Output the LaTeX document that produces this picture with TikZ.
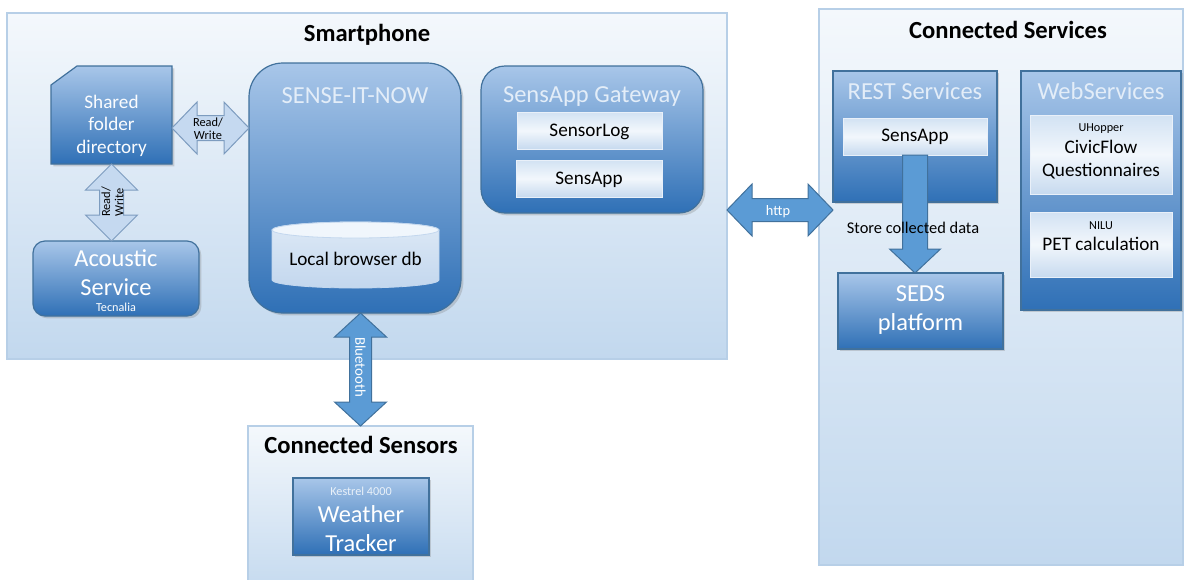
\documentclass[tikz,border=0pt]{standalone}
\usepackage{fontspec}
\setmainfont{Carlito}
\usetikzlibrary{shadows,calc}

\definecolor{contTop}{HTML}{F4F8FC}
\definecolor{contBot}{HTML}{C2D8EE}
\definecolor{contLine}{HTML}{B7CFE7}
\definecolor{darkTop}{HTML}{A8C6E9}
\definecolor{darkBot}{HTML}{2F70B6}
\definecolor{darkLine}{HTML}{41719C}
\definecolor{lightTop}{HTML}{D2E2F3}
\definecolor{lightMid}{HTML}{F2F7FC}
\definecolor{lightBot}{HTML}{C7DAEF}
\definecolor{arrowBlue}{HTML}{5B9BD5}
\definecolor{arrowPale}{HTML}{C5D9F0}
\definecolor{paleLine}{HTML}{7D9CBF}
\definecolor{titleWhite}{HTML}{E3EDF8}
\definecolor{dbTop}{HTML}{F0F6FC}
\definecolor{dbBodyTop}{HTML}{DDE9F6}
\definecolor{dbBodyBot}{HTML}{C3D7EE}

% local point: #1 along the arrow, #2 across it
\newcommand\LP[2]{({\x1+(#1)*\n3-(#2)*\n4},{\y1+(#1)*\n4+(#2)*\n3})}
% double block arrow: [style] start, end, shaft half, head half, head length (pt numbers)
\newcommand\dblarrow[6][]{%
  \path[#1] let \p1=#2, \p2=#3, \n1={atan2(\y2-\y1,\x2-\x1)},
    \n2={veclen(\x2-\x1,\y2-\y1)}, \n3={cos(\n1)}, \n4={sin(\n1)} in
    \LP{0}{0} -- \LP{#6}{#5} -- \LP{#6}{#4} -- \LP{\n2-#6}{#4} -- \LP{\n2-#6}{#5}
    -- \LP{\n2}{0} -- \LP{\n2-#6}{-#5} -- \LP{\n2-#6}{-#4} -- \LP{#6}{-#4}
    -- \LP{#6}{-#5} -- cycle;}
% single block arrow
\newcommand\sglarrow[6][]{%
  \path[#1] let \p1=#2, \p2=#3, \n1={atan2(\y2-\y1,\x2-\x1)},
    \n2={veclen(\x2-\x1,\y2-\y1)}, \n3={cos(\n1)}, \n4={sin(\n1)} in
    \LP{0}{#4} -- \LP{\n2-#6}{#4} -- \LP{\n2-#6}{#5} -- \LP{\n2}{0}
    -- \LP{\n2-#6}{-#5} -- \LP{\n2-#6}{-#4} -- \LP{0}{-#4} -- cycle;}

\begin{document}
\begin{tikzpicture}[x=0.5pt,y=-0.5pt,
  every node/.style={inner sep=0pt, outer sep=0pt},
  container/.style={draw=contLine, line width=0.8pt, top color=contTop, bottom color=contBot},
  darkbox/.style={draw=darkLine, line width=0.6pt, top color=darkTop, bottom color=darkBot,
    drop shadow={opacity=0.3, shadow xshift=1.2pt, shadow yshift=-1.2pt}},
  lightbox/.style={top color=lightTop, bottom color=lightBot, middle color=lightMid,
    draw=white!60!lightBot, line width=0.4pt},
  paleArrow/.style={fill=arrowPale, draw=paleLine, line width=0.5pt},
  blueArrow/.style={fill=arrowBlue, draw=darkLine, line width=0.5pt},
  txt/.style={anchor=base},
  bigtitle/.style={txt, font=\fontsize{12.3}{14}\selectfont\bfseries, text=black},
  lighttitle/.style={txt, font=\fontsize{12.25}{14}\selectfont, text=titleWhite},
  bigwhite/.style={txt, font=\fontsize{12.2}{14}\selectfont, text=white},
  midblack/.style={txt, font=\fontsize{9.6}{11}\selectfont, text=black},
  midwhite/.style={txt, font=\fontsize{9.6}{11}\selectfont, text=white!95!darkTop},
  tinyblack/.style={txt, font=\fontsize{6.1}{7}\selectfont, text=black},
  tinywhite/.style={txt, font=\fontsize{6.1}{7}\selectfont, text=white},
]
\useasboundingbox (0,0) rectangle (1192,579);
\clip (0,0) rectangle (1192,579);

% containers
\node[container, minimum width=360pt, minimum height=173pt] (smart) at (367,186) {};
\node[container, minimum width=182pt, minimum height=278pt] (services) at (1001,287) {};
\node[container, minimum width=112.5pt, minimum height=87pt] (sensors) at (360.5,513) {};

% smartphone content
\node[minimum width=60.5pt, minimum height=49pt] (shared) at (111.5,115) {};
\path[darkbox] (shared.south west) -- ([yshift=-9.5pt]shared.north west)
  -- ([xshift=13pt]shared.north west) -- (shared.north east) -- (shared.south east) -- cycle;
\node[darkbox, rounded corners=6pt, minimum width=83pt, minimum height=37.5pt] (acoustic) at (116,278.5) {};
\node[darkbox, rounded corners=17pt, minimum width=106pt, minimum height=125pt] (sense) at (355,188) {};
\node[minimum width=83.5pt, minimum height=33pt] (db) at (355.5,255) {};
\path[top color=dbBodyTop, bottom color=dbBodyBot, draw=dbBodyBot, line width=0.4pt]
  ([yshift=-4pt]db.north west) -- ([yshift=4pt]db.south west)
  arc[start angle=180, end angle=360, x radius=41.75pt, y radius=4pt]
  -- ([yshift=-4pt]db.north east)
  arc[start angle=0, end angle=180, x radius=41.75pt, y radius=4pt] -- cycle;
\path[fill=dbTop, draw=dbBodyBot, line width=0.4pt] ([yshift=-4pt]db.north) ellipse [x radius=41.75pt, y radius=4pt];
\node[darkbox, rounded corners=12pt, minimum width=111pt, minimum height=73.5pt] (gateway) at (592,139.5) {};
\node[lightbox, minimum width=72.5pt, minimum height=18.5pt] (sensorlog) at (589.5,130.5) {};
\node[lightbox, minimum width=73pt, minimum height=18.5pt] (gwsensapp) at (589,178.5) {};

% connected services content
\node[darkbox, minimum width=82pt, minimum height=65.5pt] (rest) at (915,136.5) {};
\node[lightbox, minimum width=72pt, minimum height=18.5pt] (restsensapp) at (915,136.5) {};
\node[darkbox, minimum width=82.5pt, minimum height=38pt] (seds) at (920.5,311) {};
\node[darkbox, minimum width=80pt, minimum height=119.5pt] (web) at (1101,190.5) {};
\node[lightbox, minimum width=71pt, minimum height=39.5pt] (uhopper) at (1101,154.5) {};
\node[lightbox, minimum width=71pt, minimum height=32.5pt] (nilu) at (1101,244.5) {};

% connected sensors content
\node[darkbox, minimum width=68pt, minimum height=38.5pt] (weather) at (361,516.5) {};

% connectors
\coordinate (rwstart) at ([yshift=-6.5pt]shared.east);
\dblarrow[paleArrow]{(rwstart)}{(sense.west |- rwstart)}{6.25}{13}{12.5}
\dblarrow[paleArrow]{(shared.south |- acoustic.north)}{(shared.south)}{6}{13}{13}
\dblarrow[blueArrow]{(sensors.north |- sense.south)}{(sensors.north)}{5.5}{13}{12}
\coordinate (httpstart) at ([yshift=-12pt]smart.east);
\dblarrow[blueArrow]{(httpstart)}{(rest.west |- httpstart)}{5.75}{13}{12.5}
\sglarrow[blueArrow]{(restsensapp.south)}{(restsensapp.south |- seds.north)}{6.25}{12.75}{12}

% texts
\node[bigtitle] (smarttitle) at (367,41.5) {Smartphone};
\node[bigtitle] (servtitle) at (1008,38) {Connected Services};
\node[bigtitle] (senstitle) at (361,453) {Connected Sensors};

\node[midwhite] (sh1) at (111.5,108) {Shared};
\node[midwhite] (sh2) at (111.5,130.5) {folder};
\node[midwhite] (sh3) at (111.5,153) {directory};

\node[align=center, font=\fontsize{6.2}{6.6}\selectfont] (rw1txt) at (208,129) {Read/\\Write};
\node[align=center, font=\fontsize{6.2}{6.6}\selectfont, rotate=90] (rw2txt) at (112.5,202) {Read/\\Write};

\node[bigwhite] (ac1) at (116,266.5) {Acoustic};
\node[bigwhite] (ac2) at (116,295) {Service};
\node[tinywhite] (ac3) at (116,311.5) {Tecnalia};

\node[lighttitle] (sensetitle) at (355,103) {SENSE-IT-NOW};
\node[midblack] (dbtxt) at (355.5,265) {Local browser db};

\node[lighttitle] (gwtitle) at (592,102) {SensApp Gateway};
\node[midblack] (sltxt) at (589.5,136.7) {SensorLog};
\node[midblack] (gstxt) at (589,184) {SensApp};

\node[font=\fontsize{7.2}{8}\selectfont, text=white, anchor=base] (httptxt) at (778,215) {http};
\node[font=\fontsize{7.4}{8}\selectfont, text=white, rotate=-90] (bttxt) at (360.5,367) {Bluetooth};

\node[lighttitle] (resttitle) at (915,99.5) {REST Services};
\node[midblack] (rstxt) at (915,141.7) {SensApp};
\node[txt, font=\fontsize{8.2}{9}\selectfont, text=black] (storetxt) at (913,233) {Store collected data};
\node[bigwhite] (sd1) at (920.5,301.7) {SEDS};
\node[bigwhite] (sd2) at (920.5,330) {platform};

\node[lighttitle] (webtitle) at (1101,99.5) {WebServices};
\node[tinyblack] (uh1) at (1101,131.7) {UHopper};
\node[midblack] (uh2) at (1101,153.3) {CivicFlow};
\node[midblack] (uh3) at (1101,176) {Questionnaires};
\node[tinyblack] (ni1) at (1101,229.3) {NILU};
\node[midblack] (ni2) at (1101,250.7) {PET calculation};

\node[tinywhite, text=white!75!darkTop] (we1) at (361,495) {Kestrel 4000};
\node[bigwhite] (we2) at (361,522.7) {Weather};
\node[bigwhite] (we3) at (361,551.7) {Tracker};
\end{tikzpicture}
\end{document}
